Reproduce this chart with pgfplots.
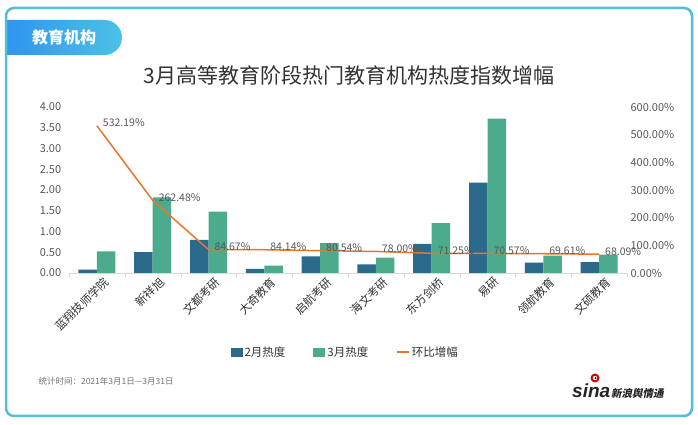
\documentclass[border=0pt]{standalone}
\usepackage{pgfplots}
\pgfplotsset{compat=1.18}
\usepackage{fontspec}
\setmainfont{Noto Sans CJK SC}
\newfontfamily\logofont{Liberation Sans}
\newfontfamily\cjkslant{Noto Sans CJK SC}[FakeSlant=0.2]

\definecolor{feb}{HTML}{2C6A8C}
\definecolor{mar}{HTML}{4CAA8D}
\definecolor{ratio}{HTML}{E8762D}
\definecolor{frame}{HTML}{52BFD6}
\definecolor{badgeA}{HTML}{2F95EE}
\definecolor{badgeB}{HTML}{4CC2E6}
\definecolor{txt}{HTML}{595959}
\definecolor{titlecol}{HTML}{333333}

\begin{document}
\begin{tikzpicture}[x=1pt,y=1pt]
\useasboundingbox (0,0) rectangle (698,425);
\fill[white] (0,0) rectangle (698,425);

% badge and title
\shade[left color=badgeA, right color=badgeB] (6,370) -- (104.5,370)
  arc[start angle=-90,end angle=90,radius=17.5] -- (6,405) -- cycle;
\node[white, font=\fontsize{16}{18}\selectfont\bfseries] at (64,387.5) {教育机构};
\node[color=titlecol, font=\fontsize{21}{24}\selectfont] at (349,350)
  {3月高等教育阶段热门教育机构热度指数增幅};

% left axis: heat index
\begin{axis}[
  at={(69pt,152pt)}, anchor=south west,
  scale only axis, width=558pt, height=166pt,
  xmin=-0.5, xmax=9.5, ymin=0, ymax=4,
  ybar=0pt, bar width=18.5pt,
  axis x line*=bottom, axis y line*=left,
  y axis line style={draw=none},
  x axis line style={draw=black!15},
  xtick={0,...,9},
  xticklabels={蓝翔技师学院,新祥旭,文都考研,大奇教育,启航考研,海文考研,东方剑桥,易研,领航教育,文硕教育},
  major x tick style={draw=none},
  minor xtick={-0.5,0.5,...,9.5},
  minor x tick style={draw=black!15},
  minor tick length=4pt, tick align=outside,
  ytick={0,0.5,...,4}, major y tick style={draw=none},
  /pgf/number format/fixed, /pgf/number format/fixed zerofill,
  /pgf/number format/precision=2,
  /pgf/number format/assume math mode=true,
  yticklabel style={font=\fontsize{11}{13}\selectfont, color=txt},
  xticklabel style={rotate=45, anchor=north east, font=\fontsize{11.5}{13}\selectfont,
    color=titlecol, inner sep=1pt, xshift=6pt, yshift=-2pt},
  legend style={at={(0.495,-0.476)}, anchor=center, draw=none, fill=none,
    legend columns=3, font=\fontsize{11.5}{13}\selectfont, text=titlecol,
    /tikz/every even column/.append style={column sep=26pt}},
]
\addplot[fill=feb, draw=none,
  legend image code/.code={\fill[feb] (0pt,-4.5pt) rectangle (12pt,4.5pt);}]
  coordinates {(0,0.08) (1,0.50) (2,0.80) (3,0.10) (4,0.40) (5,0.21) (6,0.70) (7,2.18) (8,0.25) (9,0.26)};
\addlegendentry{2月热度}
\addplot[fill=mar, draw=none,
  legend image code/.code={\fill[mar] (0pt,-4.5pt) rectangle (12pt,4.5pt);}]
  coordinates {(0,0.52) (1,1.82) (2,1.48) (3,0.18) (4,0.72) (5,0.37) (6,1.20) (7,3.72) (8,0.42) (9,0.44)};
\addlegendentry{3月热度}
\addlegendimage{legend image code/.code={\draw[ratio, line width=1.6pt] (0pt,0pt) -- (12pt,0pt);}}
\addlegendentry{环比增幅}
\end{axis}

% right axis: month-on-month growth
\begin{axis}[
  at={(69pt,152pt)}, anchor=south west,
  scale only axis, width=558pt, height=166pt,
  xmin=-0.5, xmax=9.5, ymin=0, ymax=600,
  axis y line*=right, hide x axis,
  y axis line style={draw=none}, major y tick style={draw=none},
  ytick={0,100,...,600},
  yticklabel={\pgfmathprintnumber[fixed,fixed zerofill,precision=2]{\tick}\%},
  /pgf/number format/assume math mode=true,
  yticklabel style={font=\fontsize{11}{13}\selectfont, color=txt},
  clip=false,
]
\addplot[ratio, line width=1.5pt, mark=none,
  point meta=y,
  nodes near coords={\pgfmathprintnumber[fixed,fixed zerofill,precision=2]{\pgfplotspointmeta}\%},
  every node near coord/.append style={anchor=west, xshift=2pt, yshift=3pt,
    font=\fontsize{10.5}{12}\selectfont, color=txt}]
  coordinates {(0,532.19) (1,262.48) (2,84.67) (3,84.14) (4,80.54) (5,78.00) (6,71.25) (7,70.57) (8,69.61) (9,68.09)};
\end{axis}

% footer
\node[anchor=west, color=black!55, font=\fontsize{8.5}{10}\selectfont] at (35,44)
  {统计时间：2021年3月1日—3月31日};
\node[anchor=west, inner sep=0pt] at (572,34)
  {\logofont\fontsize{19}{19}\selectfont\bfseries\itshape\color{black!85}sina\hspace{1pt}%
   \cjkslant\fontsize{10.5}{12}\selectfont\bfseries 新浪舆情通};
\fill[red!85!black] (595,47) circle (4.5);
\fill[white] (595,47) circle (2.2);
\fill[black] (595.5,47) circle (1);

% frame
\draw[frame, line width=2.5pt, rounded corners=8pt] (6,9) rectangle (692,417);
\end{tikzpicture}
\end{document}
